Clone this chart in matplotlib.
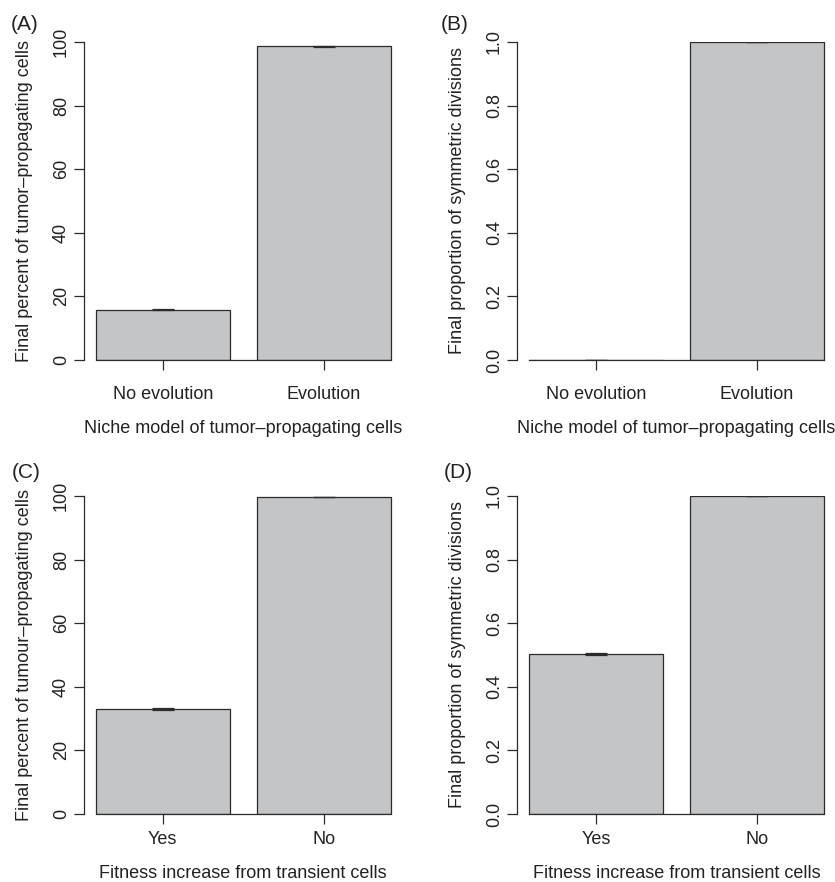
import numpy as np
import matplotlib
matplotlib.use("Agg")
import matplotlib.pyplot as plt

plt.rcParams['font.family'] = ['Liberation Sans', 'DejaVu Sans']

# data
niche_cats = ["No evolution", "Evolution"]
fitness_cats = ["Yes", "No"]
a_vals = [15.8, 98.6]
a_err = [0.15, 0.15]
b_vals = [0.0, 1.0]
b_err = [0.0, 0.0]
c_vals = [33.1, 99.7]
c_err = [0.25, 0.1]
d_vals = [0.503, 1.0]
d_err = [0.003, 0.001]

niche_xlabel = "Niche model of tumor\u2013propagating cells"
fitness_xlabel = "Fitness increase from transient cells"
pct_ylabel_a = "Final percent of tumor\u2013propagating cells"
pct_ylabel_c = "Final percent of tumour\u2013propagating cells"
sym_ylabel = "Final proportion of symmetric divisions"

bar_fill = "#c4c5c7"
edge = "#2b2b2b"
txt = "#222222"
fs = 13

W, H = 835, 882
fig = plt.figure(figsize=(W / 100, H / 100), dpi=100)


def px_axes(left, top, right, bottom):
    return fig.add_axes([left / W, 1 - bottom / H, (right - left) / W, (bottom - top) / H])


def panel(ax, cats, vals, errs, ymax, yticks, yfmt, xlabel, ylabel, tag, tagpos,
          xpad, xlab_y):
    # R style barplot: width 1, space 0.2
    pos = np.array([0.7, 1.9])
    ax.bar(pos, vals, width=1.0, color=bar_fill, edgecolor=edge, linewidth=0.9, zorder=2)
    ax.errorbar(pos, vals, yerr=errs, fmt='none', ecolor=edge, elinewidth=0.9,
                capsize=7.6, capthick=0.9, zorder=3)
    ax.set_xlim(0.112, 2.488)
    ax.set_ylim(0, ymax)
    for s in ['top', 'right']:
        ax.spines[s].set_visible(False)
    ax.spines['left'].set_bounds(0, ymax)
    ax.spines['bottom'].set_bounds(0.2, 2.4)
    for s in ['left', 'bottom']:
        ax.spines[s].set_linewidth(0.9)
        ax.spines[s].set_color(edge)
    ax.set_yticks(yticks)
    ax.set_yticklabels([yfmt.format(t) for t in yticks], rotation=90, va='center')
    ax.set_xticks(pos)
    ax.set_xticklabels(cats)
    ax.tick_params(axis='y', direction='out', length=7.2, width=0.9, color=edge,
                   pad=3, labelsize=fs, labelcolor=txt)
    ax.tick_params(axis='x', direction='out', length=7.5, width=0.9, color=edge,
                   pad=xpad, labelsize=fs, labelcolor=txt)
    ax.set_xlabel(xlabel, fontsize=fs, color=txt, va='center')
    ax.set_ylabel(ylabel, fontsize=fs, color=txt)
    ax.xaxis.set_label_coords(0.5, xlab_y)
    ax.yaxis.set_label_coords(-0.16, 0.5)
    ax.patch.set_visible(False)
    fig.text(tagpos[0] / W, 1 - tagpos[1] / H, tag, fontsize=15, color=txt,
             ha='left', va='center')


axA = px_axes(84, 42, 402.4, 360)
panel(axA, niche_cats, a_vals, a_err, 100, [0, 20, 40, 60, 80, 100], "{:g}",
      niche_xlabel, pct_ylabel_a, "(A)", (11, 24), 11.4, -0.214)

axB = px_axes(517, 42, 835.9, 360)
panel(axB, niche_cats, b_vals, b_err, 1.0, [0.0, 0.2, 0.4, 0.6, 0.8, 1.0], "{:.1f}",
      niche_xlabel, sym_ylabel, "(B)", (441, 24), 11.4, -0.214)

axC = px_axes(84, 496, 402.4, 814)
panel(axC, fitness_cats, c_vals, c_err, 100, [0, 20, 40, 60, 80, 100], "{:g}",
      fitness_xlabel, pct_ylabel_c, "(C)", (12, 472), 4.9, -0.186)

axD = px_axes(517, 496, 835.9, 814)
panel(axD, fitness_cats, d_vals, d_err, 1.0, [0.0, 0.2, 0.4, 0.6, 0.8, 1.0], "{:.1f}",
      fitness_xlabel, sym_ylabel, "(D)", (444, 473), 4.9, -0.186)

fig.savefig("out.png", dpi=100)
